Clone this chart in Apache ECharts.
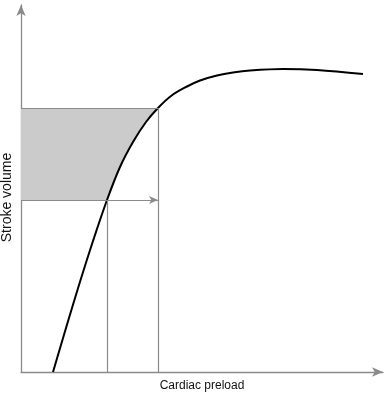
<!DOCTYPE html>
<html><head><meta charset="utf-8">
<script src="https://cdn.jsdelivr.net/npm/echarts@6/dist/echarts.min.js"></script>
<style>html,body{margin:0;padding:0;background:#fff}#c{width:385px;height:394px}</style>
</head><body><div id="c"></div>
<script>
// Curve: Frank-Starling (arbitrary units: preload x, stroke volume y)
const curveX = [32, 45, 58, 72, 86, 99, 112, 125, 137, 150, 165, 179, 196, 212, 229, 262, 296, 342];
const curveY = [0, 44, 87, 131, 172, 205, 230, 250, 264, 276, 285, 291.5, 296.5, 299.5, 301.5, 303, 302, 298];
// Two preload levels and their stroke volumes
const preloadLow = 86, preloadHigh = 137;
const svLow = 172, svHigh = 264;
const xName = 'Cardiac preload';
const yName = 'Stroke volume';

const curve = curveX.map((x, i) => [x, curveY[i]]);
const band = curve.filter(p => p[1] >= svLow && p[1] <= svHigh);
const shade = [[0, svLow]].concat(band, [[0, svHigh]]);

const chart = echarts.init(document.getElementById('c'));
const axisLine = {show: true, lineStyle: {color: '#8a8a8a', width: 1.3}, symbol: ['none', 'arrow'], symbolSize: [7, 11]};
chart.setOption({
  animation: false,
  grid: {left: 21, right: 2, top: 5, bottom: 22, outerBoundsMode: 'none', containLabel: false},
  xAxis: {type: 'value', min: 0, max: 362, name: xName, nameLocation: 'middle', nameGap: 8,
    nameTextStyle: {color: '#111', fontSize: 12, fontFamily: 'Liberation Sans'},
    axisLine: axisLine, axisTick: {show: false}, axisLabel: {show: false}, splitLine: {show: false}},
  yAxis: {type: 'value', min: 0, max: 367, name: yName, nameLocation: 'middle', nameGap: 7,
    nameTextStyle: {color: '#111', fontSize: 14, fontFamily: 'Liberation Sans', padding: [0, 18, 0, 0]},
    axisLine: axisLine, axisTick: {show: false}, axisLabel: {show: false}, splitLine: {show: false}},
  series: [
    {type: 'custom', data: [0], z: 1, silent: true,
      renderItem: function (params, api) {
        const pts = shade.map(p => api.coord(p));
        return {type: 'polygon', shape: {points: pts}, style: {fill: '#cbcbcb', stroke: null}};
      }},
    {type: 'line', data: [], z: 2, silent: true,
      markLine: {silent: true, symbol: ['none', 'none'], animation: false,
        lineStyle: {color: '#8a8a8a', width: 1.2, type: 'solid'}, label: {show: false},
        data: [
          [{coord: [preloadLow, 0]}, {coord: [preloadLow, svLow]}],
          [{coord: [preloadHigh, 0]}, {coord: [preloadHigh, svHigh]}],
          [{coord: [0, svHigh]}, {coord: [preloadHigh, svHigh]}]
        ]}},
    {type: 'line', data: [], z: 2, silent: true,
      markLine: {silent: true, symbol: ['none', 'arrow'], symbolSize: [6, 9], animation: false,
        lineStyle: {color: '#8a8a8a', width: 1.2, type: 'solid'}, label: {show: false},
        data: [[{coord: [0, svLow]}, {coord: [preloadHigh, svLow]}]]}},
    {type: 'line', data: curve, smooth: 0.35, showSymbol: false, z: 3,
      lineStyle: {color: '#000', width: 2}}
  ]
});
</script></body></html>
